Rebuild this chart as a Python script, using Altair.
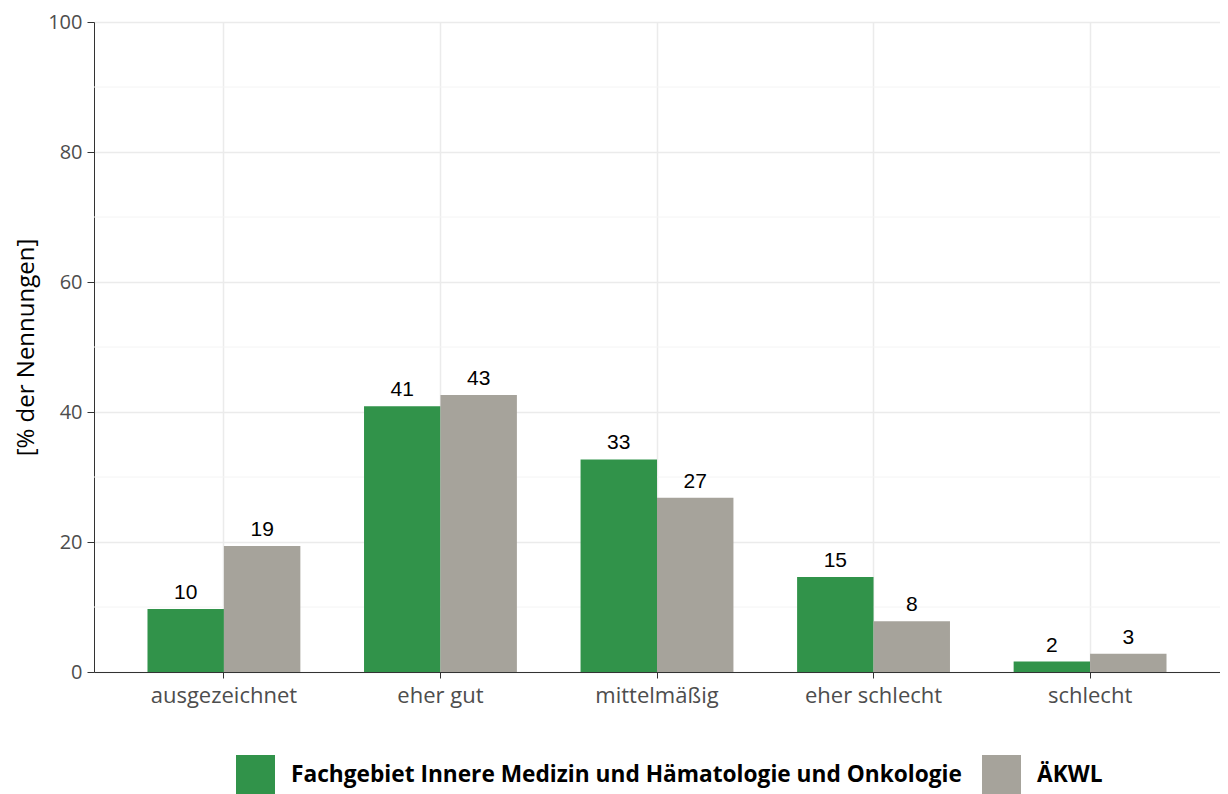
import altair as alt
import pandas as pd

kategorien = ["ausgezeichnet", "eher gut", "mittelmäßig", "eher schlecht", "schlecht"]
serien = ["Fachgebiet Innere Medizin und Hämatologie und Onkologie", "ÄKWL"]
werte_fachgebiet = [9.7, 40.9, 32.7, 14.6, 1.6]
werte_aekwl = [19.4, 42.6, 26.8, 7.8, 2.8]
y_ticks = [0, 20, 40, 60, 80, 100]
y_minor = [10, 30, 50, 70, 90]
farben = ["#31934A", "#A6A39B"]

rows = []
for k, a, b in zip(kategorien, werte_fachgebiet, werte_aekwl):
    rows.append({"Kategorie": k, "Serie": serien[0], "Wert": a})
    rows.append({"Kategorie": k, "Serie": serien[1], "Wert": b})
df = pd.DataFrame(rows)
df_minor = pd.DataFrame({"Wert": y_minor})

x_enc = alt.X(
    "Kategorie:N",
    sort=kategorien,
    scale=alt.Scale(paddingInner=0.294, paddingOuter=0.247),
    axis=alt.Axis(
        title=None,
        bandPosition=0.5,
        labelFont="Open Sans",
        labelFontSize=22,
        labelColor="#4D4D4D",
        labelPadding=7,
        labelAngle=0,
        tickSize=6,
        tickColor="#333333",
        domainColor="#333333",
        grid=True,
        gridColor="#EBEBEB",
        gridWidth=1.5,
    ),
)
xoff = alt.XOffset("Serie:N", sort=serien, scale=alt.Scale(paddingInner=0, paddingOuter=0))
y_enc = alt.Y(
    "Wert:Q",
    scale=alt.Scale(domain=[0, 100], nice=False),
    axis=alt.Axis(
        title="[% der Nennungen]",
        values=y_ticks,
        labelFont="Open Sans",
        labelFontSize=20,
        labelColor="#4D4D4D",
        labelPadding=5,
        tickSize=7,
        tickColor="#333333",
        domainColor="#333333",
        grid=True,
        gridColor="#EBEBEB",
        gridWidth=1.5,
        titleFont="Open Sans",
        titleFontSize=24,
        titleFontWeight="normal",
        titleColor="#000000",
        titlePadding=9,
    ),
)

minor = alt.Chart(df_minor).mark_rule(color="#F4F4F4", strokeWidth=1).encode(y="Wert:Q")

bars = alt.Chart(df).mark_bar().encode(
    x=x_enc,
    xOffset=xoff,
    y=y_enc,
    color=alt.Color(
        "Serie:N",
        sort=serien,
        scale=alt.Scale(domain=serien, range=farben),
        legend=alt.Legend(
            title=None,
            orient="none",
            legendX=142,
            legendY=733,
            direction="horizontal",
            symbolType="square",
            symbolSize=1521,
            symbolStrokeWidth=0,
            symbolOpacity=1,
            labelFont="Open Sans",
            labelFontWeight="bold",
            labelFontSize=22.7,
            labelColor="#000000",
            labelOffset=16,
            columnPadding=20,
            padding=0,
            labelLimit=1000,
        ),
    ),
)

labels = alt.Chart(df).mark_text(
    font="Liberation Sans", fontSize=21, color="#000000", baseline="alphabetic", dy=-10
).encode(
    x=alt.X("Kategorie:N", sort=kategorien),
    xOffset=xoff,
    y=alt.Y("Wert:Q"),
    text=alt.Text("Wert:Q", format=".0f"),
)

chart = (
    alt.layer(minor, bars, labels)
    .properties(
        width=1126,
        height=650,
        autosize=alt.AutoSizeParams(type="none"),
        padding={"left": 86, "top": 14, "right": 0, "bottom": 122},
    )
    .configure_view(strokeOpacity=0)
    .configure(background="white")
)

chart.save("out.html", embed_options={"renderer": "svg", "actions": False})
